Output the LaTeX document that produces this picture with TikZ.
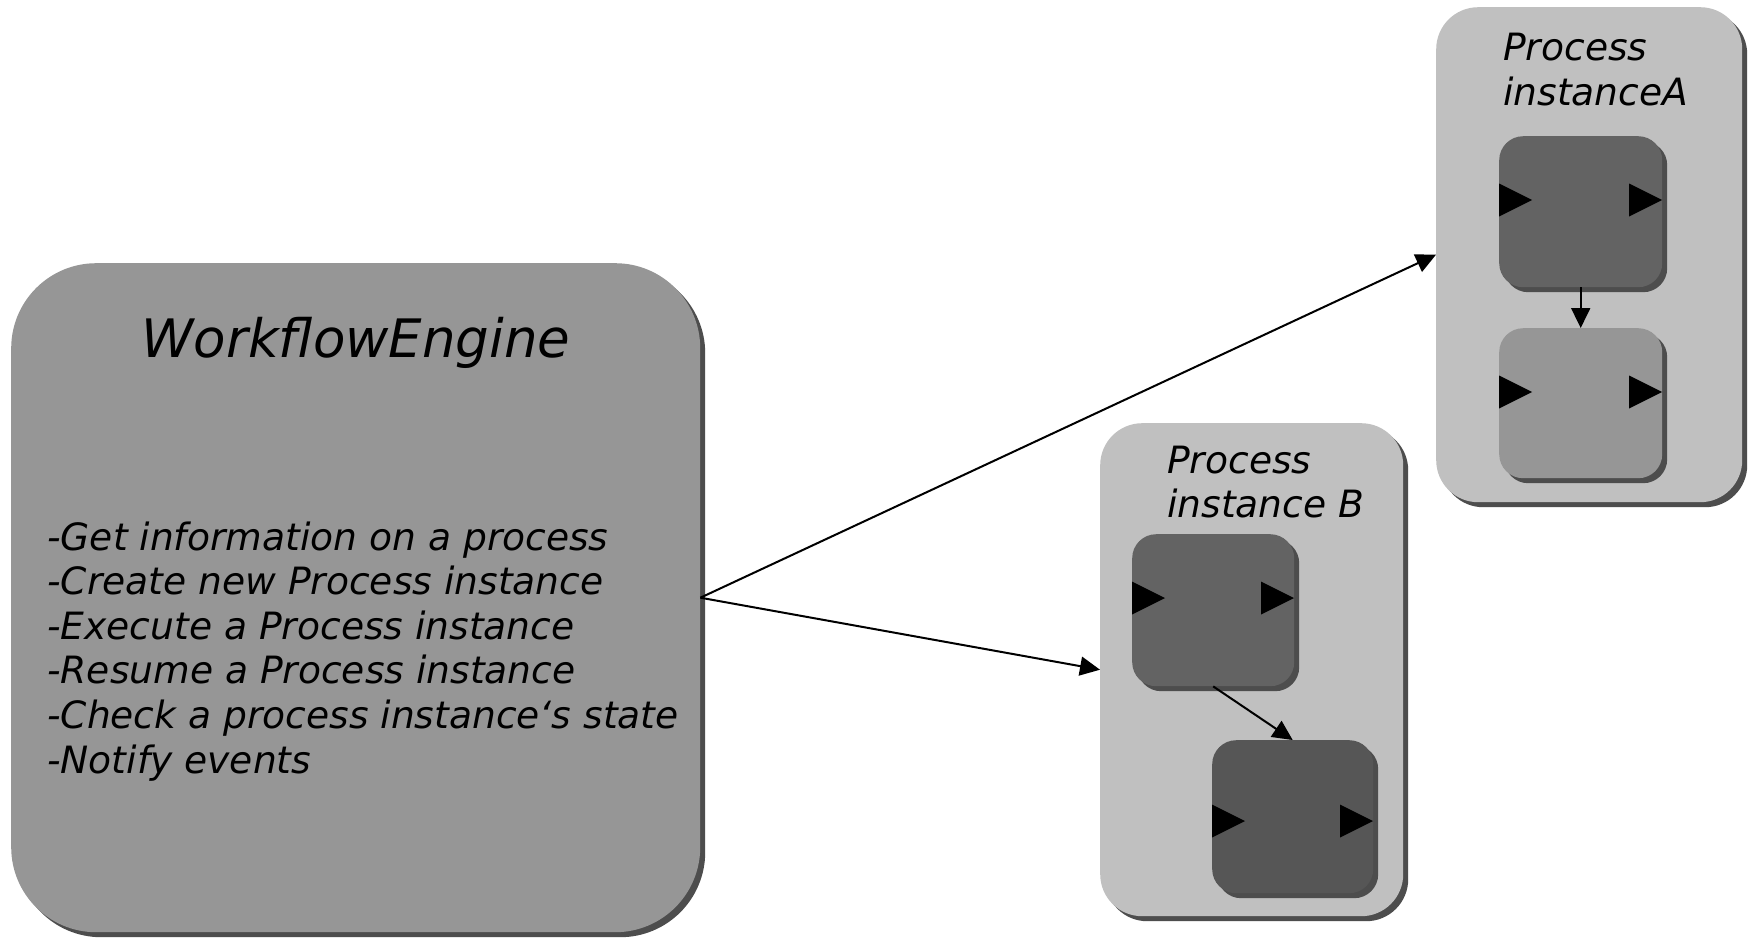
\documentclass[tikz,border=0pt]{standalone}
\usepackage{fontspec}
\setmainfont{DejaVu Sans}
\usetikzlibrary{arrows.meta,shadows}
\definecolor{shad}{RGB}{77,77,77}
\definecolor{engfill}{RGB}{150,150,150}
\definecolor{procfill}{RGB}{192,192,192}
\definecolor{actdark}{RGB}{99,99,99}
\definecolor{actmid}{RGB}{150,150,150}
\definecolor{actdeep}{RGB}{86,86,86}
\newcommand{\porttri}[2]{\fill[black] (#1,#2) -- ++(33,16.5) -- ++(-33,16.5) -- cycle;}
\begin{document}
\begin{tikzpicture}[x=1pt,y=-1pt,
  shbox/.style={draw=none, inner sep=0pt, anchor=north west,
    drop shadow={shadow xshift=5pt, shadow yshift=-5pt, fill=shad, opacity=1}},
  engbox/.style={shbox, fill=engfill, rounded corners=85pt},
  procbox/.style={shbox, fill=procfill, rounded corners=42pt},
  actbox/.style={shbox, rounded corners=24pt},
  txt/.style={inner sep=0pt, anchor=base west, font=\fontsize{37.6}{44.6}\selectfont\itshape},
  conn/.style={line width=2pt, -{Triangle[length=20pt,width=19pt]}}
]
\useasboundingbox[fill=white] (0,0) rectangle (1748,938);

% Workflow engine
\node[engbox, minimum width=689pt, minimum height=669pt] (we) at (11,263) {};
\node[inner sep=0pt, anchor=base, font=\fontsize{53}{60}\selectfont\itshape] (wet) at (356,357) {WorkflowEngine};
\node[txt] (l1) at (47,550) {-Get information on a process};
\node[txt] (l2) at (47,594.6) {-Create new Process instance};
\node[txt] (l3) at (47,639.2) {-Execute a Process instance};
\node[txt] (l4) at (47,683.8) {-Resume a Process instance};
\node[txt] (l5) at (47,728.4) {-Check a process instance‘s state};
\node[txt] (l6) at (47,773) {-Notify events};

% Process instance A
\node[procbox, minimum width=306pt, minimum height=495pt] (pa) at (1436,7) {};
\node[txt] (pat1) at (1503,60) {Process};
\node[txt] (pat2) at (1503,105) {instanceA};
\node[actbox, fill=actdark, minimum width=163pt, minimum height=151pt] (a1) at (1499,136) {};
\node[actbox, fill=actmid, minimum width=163pt, minimum height=150pt] (a2) at (1499,328) {};
\porttri{1499}{183.5}
\porttri{1629}{183.5}
\porttri{1499}{375.5}
\porttri{1629}{375.5}

% Process instance B
\node[procbox, minimum width=303pt, minimum height=493pt] (pb) at (1100,423) {};
\node[txt] (pbt1) at (1167,473) {Process};
\node[txt] (pbt2) at (1167,517) {instance B};
\node[actbox, fill=actdark, minimum width=162pt, minimum height=152pt] (b1) at (1132,534) {};
\node[actbox, fill=actdeep, minimum width=161pt, minimum height=153pt] (b2) at (1212,740) {};
\porttri{1132}{581.5}
\porttri{1261}{581.5}
\porttri{1212}{804.5}
\porttri{1340}{804.5}

% connectors
\draw[conn] (we.east) -- (pa.west);
\draw[conn] (we.east) -- (pb.west);
\draw[conn] (a1.south) -- (a2.north);
\draw[conn] (b1.south) -- (b2.north);
\end{tikzpicture}
\end{document}
